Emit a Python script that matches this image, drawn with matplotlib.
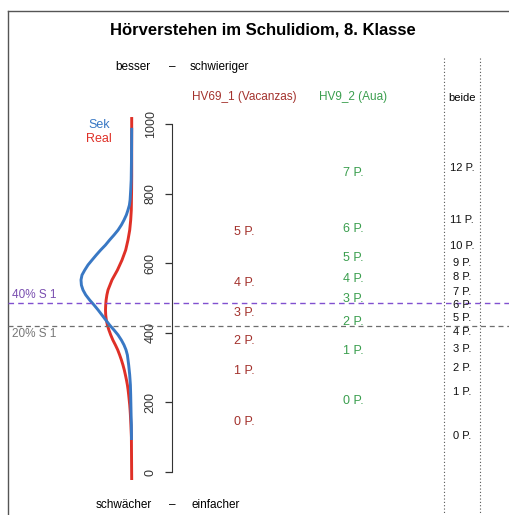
import matplotlib
matplotlib.use("Agg")
import matplotlib.pyplot as plt

plt.rcParams["font.family"] = ["Liberation Sans", "DejaVu Sans"]

# density curves: score value -> horizontal deflection (arbitrary density units)
sek_score = [989, 900, 840, 810, 782, 767, 753, 739, 724, 710, 695, 681, 667, 652,
             638, 624, 609, 595, 580, 566, 552, 537, 523, 509, 494, 480, 466, 451,
             437, 422, 408, 394, 379, 365, 351, 336, 307, 279, 250, 221, 164, 135, 92]
sek_dens = [0, 0.2, 0.5, 1.0, 1.6, 2.3, 3.7, 5.3, 7.7, 10.3, 13.7, 17.7, 22, 26.3,
            31, 35.3, 39.7, 43.7, 47, 49.7, 50.7, 50.3, 48.7, 46, 42, 37.7, 33.7, 29.7,
            26, 22, 17.7, 13.7, 10.3, 7.7, 5.7, 4.3, 3, 2, 1.3, 1, 0.6, 0.3, 0.2]
real_score = [1020, 850, 810, 753, 724, 695, 667, 638, 609, 580, 552, 523, 509, 494,
              480, 466, 451, 437, 422, 408, 394, 379, 365, 351, 336, 322, 307, 293,
              279, 264, 250, 236, 221, 207, 193, 178, 164, 135, 100, -23]
real_dens = [0, 0, 0.1, 0.4, 1.0, 2.0, 3.7, 6.0, 9.7, 14.3, 19.7, 23.7, 24.8, 25.6,
             26, 26.2, 26, 25.4, 24.3, 22.8, 21, 18.8, 16.3, 14, 12, 10.3, 8.7, 7.4,
             6.3, 5.2, 4.3, 3.6, 3, 2.5, 2, 1.6, 1.3, 0.8, 0.3, 0]

# thresholds
cut_40 = 486
cut_20 = 420

# item step positions
hv69_points = ["0 P.", "1 P.", "2 P.", "3 P.", "4 P.", "5 P."]
hv69_values = [144, 290, 376, 457, 543, 690]
hv9_points = ["0 P.", "1 P.", "2 P.", "3 P.", "4 P.", "5 P.", "6 P.", "7 P."]
hv9_values = [204, 348, 431, 497, 555, 615, 698, 859]
beide_points = [f"{i} P." for i in range(13)]
beide_values = [103, 230, 299, 353, 402, 443, 480, 517, 560, 601, 649, 724, 874]

yticks = [0, 200, 400, 600, 800, 1000]

W, H = 510, 515
Y0_PX, Y1000_PX = 472, 124          # pixel rows of score 0 and 1000
scale = (Y0_PX - Y1000_PX) / 1000.0

fig = plt.figure(figsize=(W / 100, H / 100), dpi=100)
ax = fig.add_axes([0, 0, 1, 1])
ax.set_xlim(0, W)
ax.set_ylim(-(H - Y0_PX) / scale, Y0_PX / scale)
ax.patch.set_alpha(0)


def fy(px):
    # figure pixel row (from top) -> axes fraction
    return 1 - px / H


tr = ax.get_xaxis_transform()  # x data, y axes fraction

# frame of the outer plot
ax.plot([8, 8], [fy(11), 0], transform=tr, color="#555555", lw=1.0, clip_on=False)
ax.plot([8, W], [fy(11), fy(11)], transform=tr, color="#555555", lw=1.0, clip_on=False)

# axis
for s in ["top", "right", "bottom"]:
    ax.spines[s].set_visible(False)
ax.spines["left"].set_position(("data", 172))
ax.spines["left"].set_bounds(0, 1000)
ax.spines["left"].set_color("#333333")
ax.set_xticks([])
ax.set_yticks(yticks)
ax.set_yticklabels([str(t) for t in yticks], rotation=90, va="center")
ax.tick_params(axis="y", length=5, width=0.9, pad=6, labelsize=9, colors="#333333")

# density curves
base_x = 131.7
ax.plot([base_x - d for d in real_dens], real_score, color="#DF3027", lw=2.1,
        solid_capstyle="butt", solid_joinstyle="round")
ax.plot([base_x - d for d in sek_dens], sek_score, color="#3978C4", lw=2.1,
        solid_capstyle="butt", solid_joinstyle="round")
ax.text(99, fy(125), "Sek", transform=tr, color="#3978C4", fontsize=9, ha="center", va="center")
ax.text(99, fy(139), "Real", transform=tr, color="#DF3027", fontsize=9, ha="center", va="center")

# threshold lines
ax.plot([8, W], [cut_40, cut_40], color="#8050D0", lw=1.0, ls=(0, (4, 3)))
ax.plot([8, W], [cut_20, cut_20], color="#6E6E6E", lw=0.9, ls=(0, (4, 3)))
ax.text(12, cut_40 + 6, "40% S 1", color="#7A4FB0", fontsize=8.5, ha="left", va="bottom")
ax.text(12, cut_20 - 5, "20% S 1", color="#777777", fontsize=8.5, ha="left", va="top")

# dotted separators
for xv in [444, 480]:
    ax.plot([xv, xv], [fy(58), 0], transform=tr, color="#555555", lw=0.8, ls=(0, (1, 2)), clip_on=False)

# step labels
for lab, v in zip(hv69_points, hv69_values):
    ax.text(244, v, lab, color="#A3312C", fontsize=9, ha="center", va="center")
for lab, v in zip(hv9_points, hv9_values):
    ax.text(353, v, lab, color="#3A9E4E", fontsize=9, ha="center", va="center")
for lab, v in zip(beide_points, beide_values):
    ax.text(462, v, lab, color="#111111", fontsize=8, ha="center", va="center")

# header texts
ax.text(263, fy(30), "Hörverstehen im Schulidiom, 8. Klasse", transform=tr,
        fontsize=12, fontweight="bold", ha="center", va="center")
ax.text(150, fy(67), "besser", transform=tr, fontsize=8.5, ha="right", va="center")
ax.text(172, fy(67), "–", transform=tr, fontsize=8.5, ha="center", va="center")
ax.text(190, fy(67), "schwieriger", transform=tr, fontsize=8.5, ha="left", va="center")
ax.text(244, fy(97), "HV69_1 (Vacanzas)", transform=tr, color="#A3312C", fontsize=8.5, ha="center", va="center")
ax.text(353, fy(97), "HV9_2 (Aua)", transform=tr, color="#3A9E4E", fontsize=8.5, ha="center", va="center")
ax.text(462, fy(98), "beide", transform=tr, fontsize=8, ha="center", va="center")
ax.text(152, fy(505), "schwächer", transform=tr, fontsize=8.5, ha="right", va="center")
ax.text(172, fy(505), "–", transform=tr, fontsize=8.5, ha="center", va="center")
ax.text(192, fy(505), "einfacher", transform=tr, fontsize=8.5, ha="left", va="center")

fig.savefig("out.png", dpi=100)
